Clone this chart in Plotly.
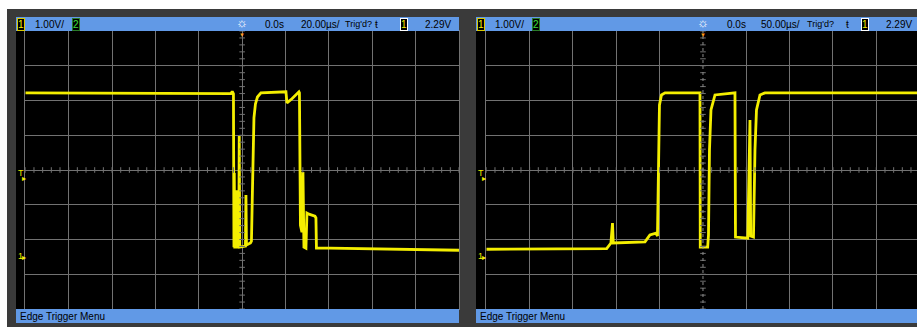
import plotly.graph_objects as go

W, H = 917, 327

# ---------------- data ----------------
# Scope settings
volts_per_div = 1.0
center_v = 2.5          # volts at the centre graticule line (ground marker ~2.5 div below)
trig_level = 2.29       # V
left_time_per_div = 20  # µs/div
right_time_per_div = 50 # µs/div

# Left capture (20 µs/div): time in µs, channel 1 voltage in V
left_t = [-100.0, -5.16, -4.56, -4.01, -3.78, -3.64, -3.41, -2.63, -2.40, -2.21,
          -1.57, -1.34, -1.11, 1.52, 1.75, 1.98, 3.83, 4.29, 4.66, 4.98,
          5.44, 6.13, 7.05, 8.67, 20.20, 20.66, 22.96, 26.19, 26.42, 26.88,
          27.57, 28.04, 28.50, 29.42, 29.88, 30.81, 33.57, 34.03, 34.26, 40.49,
          100.0]
left_v = [4.72, 4.70, 4.76, 4.69, 0.28, 2.41, 0.28, 0.28, 1.92, 0.28,
          0.28, 3.48, 0.28, 0.31, 1.78, 0.34, 0.40, 0.45, 1.64, 3.36,
          4.00, 4.40, 4.60, 4.72, 4.75, 4.43, 4.55, 4.75, 4.72, 0.91,
          0.71, 2.44, 0.28, 0.25, 1.26, 1.23, 1.17, 1.12, 0.25, 0.25,
          0.19]

# Right capture (50 µs/div)
right_t = [-250.0, -111.1, -106.2, -104.4, -103.5, -66.9, -61.2, -54.2, -52.5, -51.3,
           -50.2, -47.9, -43.8, -3.46, -3.12, 5.42, 6.35, 7.50, 9.23, 13.85,
           36.92, 37.50, 51.70, 54.23, 55.04, 58.27, 60.00, 61.73, 65.77, 71.50,
           250.0]
right_v = [0.22, 0.24, 0.40, 0.97, 0.40, 0.43, 0.63, 0.68, 0.60, 3.08,
           4.37, 4.66, 4.72, 4.72, 0.28, 0.28, 0.63, 3.08, 4.23, 4.66,
           4.72, 0.57, 0.54, 3.94, 0.60, 0.57, 3.08, 4.23, 4.66, 4.72,
           4.72]

left_header = ["1.00V/", "0.0s", "20.00µs/", "Trig'd?", "ŧ", "2.29V"]
right_header = ["1.00V/", "0.0s", "50.00µs/", "Trig'd?", "ŧ", "2.29V"]
menu_label = "Edge Trigger Menu"

# ---------------- layout helpers ----------------
def px(x):
    return x / W

def py(y):
    return 1 - y / H

BLUE = "#6199e6"
GRID = "#727272"
YELLOW = "#f4ee00"
BORDER = "#3a3a3a"
FONT = "Liberation Sans"

fig = go.Figure()

# traces
fig.add_trace(go.Scatter(x=left_t, y=left_v, mode="lines", xaxis="x", yaxis="y",
                         line=dict(color=YELLOW, width=2.8), hoverinfo="skip"))
fig.add_trace(go.Scatter(x=right_t, y=right_v, mode="lines", xaxis="x2", yaxis="y2",
                         line=dict(color=YELLOW, width=2.8), hoverinfo="skip"))

# centre-line minor ticks (1/5 division)
def minor_positions(lo, hi, step):
    n = int(round((hi - lo) / step))
    return [lo + i * step for i in range(n + 1)]

for xa, ya, tdiv in (("x", "y", left_time_per_div), ("x2", "y2", right_time_per_div)):
    xs = minor_positions(-5 * tdiv, 5 * tdiv, tdiv / 5)
    fig.add_trace(go.Scatter(x=xs, y=[center_v] * len(xs), mode="markers", xaxis=xa, yaxis=ya,
                             marker=dict(symbol="line-ns", size=4, line=dict(color=GRID, width=1)),
                             hoverinfo="skip"))
    ys = minor_positions(center_v - 4 * volts_per_div, center_v + 4 * volts_per_div, volts_per_div / 5)
    fig.add_trace(go.Scatter(x=[0] * len(ys), y=ys, mode="markers", xaxis=xa, yaxis=ya,
                             marker=dict(symbol="line-ew", size=4, line=dict(color=GRID, width=1)),
                             hoverinfo="skip"))

# right panel: dotted trigger-position line
fig.add_trace(go.Scatter(x=[0, 0], y=[center_v - 4, center_v + 4], mode="lines", xaxis="x2", yaxis="y2",
                         line=dict(color="#8a8a8a", width=1, dash="dot"), hoverinfo="skip"))

right_edge_t = (917 - 703) / (5 * 43.33) * 5 * right_time_per_div

ax_common = dict(showgrid=True, gridcolor=GRID, gridwidth=1, zeroline=False, showticklabels=False,
                 ticks="", showline=True, linecolor=GRID, mirror=True, fixedrange=True)

fig.update_layout(
    width=W, height=H, margin=dict(l=0, r=0, t=0, b=0),
    paper_bgcolor="white", plot_bgcolor="rgba(0,0,0,0)", showlegend=False,
    xaxis=dict(domain=[px(25.3), px(459)], range=[-5 * left_time_per_div, 5 * left_time_per_div],
               tick0=0, dtick=left_time_per_div, anchor="y", **ax_common),
    yaxis=dict(domain=[py(309), py(31)], range=[center_v - 4, center_v + 4], tick0=center_v,
               dtick=volts_per_div, anchor="x", **ax_common),
    xaxis2=dict(domain=[px(486.3), 1], range=[-5 * right_time_per_div, right_edge_t],
                tickmode="array",
                tickvals=[k * right_time_per_div for k in range(-5, 6) if k != 0],
                anchor="y2", **ax_common),
    yaxis2=dict(domain=[py(309), py(31)], range=[center_v - 4, center_v + 4], tick0=center_v,
                dtick=volts_per_div, anchor="x2", **ax_common),
)

shapes = []
def rect(x0, y0, x1, y1, color, layer="below"):
    shapes.append(dict(type="rect", xref="paper", yref="paper", x0=px(x0), x1=px(x1),
                       y0=py(y1), y1=py(y0), fillcolor=color, line=dict(width=0), layer=layer))

rect(7, 9, 917, 327, BORDER)
for x0, x1 in ((16, 459), (476, 917)):
    rect(x0, 31, x1, 309, "black")
    rect(x0, 17, x1, 31, BLUE, "above")
    rect(x0, 309, x1, 323, BLUE, "above")
fig.update_layout(shapes=shapes)

ann = []
def text(x, y, s, color="black", size=10, anchor="left", **kw):
    ann.append(dict(x=px(x), y=py(y), xref="paper", yref="paper", text=s, showarrow=False,
                    xanchor=anchor, yanchor="middle", font=dict(family=FONT, size=size, color=color), **kw))

def box(x, y, s, color, border):
    ann.append(dict(x=px(x), y=py(y), xref="paper", yref="paper", text=s, showarrow=False,
                    xanchor="left", yanchor="middle", bgcolor="black", bordercolor=border,
                    borderwidth=1, borderpad=0,
                    font=dict(family=FONT, size=10, color=color)))

def header(x0, labels, pos):
    box(x0 + 1, 24, "1", YELLOW, "#d8c800")
    text(x0 + 17, 24, labels[0])
    box(x0 + 56, 24, "2", "#3ee03e", "#2a7a2a")
    text(pos["sun"], 23, "☼", color="white", size=13, anchor="center")
    text(pos["t0"], 24, labels[1])
    text(pos["tdiv"], 24, labels[2])
    text(pos["trig"], 24, labels[3], size=9)
    text(pos["edge"], 24, labels[4])
    box(pos["box"], 24, "1", YELLOW, "white")
    text(pos["lvl"], 24, labels[5])
    text(x0 + 2, 316, menu_label)

header(16, left_header, dict(sun=242.3, t0=263, tdiv=299, trig=343, edge=373, box=400, lvl=423))
header(476, right_header, dict(sun=703, t0=725, tdiv=759, trig=805, edge=844, box=861, lvl=884))

# trigger-position markers (orange) and level / ground markers
for xa in ("x", "x2"):
    ann.append(dict(x=0, y=py(34.5), xref=xa, yref="paper", text="▼", showarrow=False,
                    xanchor="center", yanchor="middle", font=dict(size=6, color="#ff9a1a")))
for x0, ya in ((16, "y"), (476, "y2")):
    ann.append(dict(x=px(x0 + 4.5), y=trig_level + 0.12, xref="paper", yref=ya, text="T", showarrow=False,
                    xanchor="center", yanchor="middle", font=dict(family=FONT, size=9, color=YELLOW)))
    ann.append(dict(x=px(x0 + 7.5), y=trig_level, xref="paper", yref=ya, text="▸", showarrow=False,
                    xanchor="center", yanchor="middle", font=dict(size=8, color=YELLOW)))
    ann.append(dict(x=px(x0 + 4.5), y=0.03, xref="paper", yref=ya, text="1", showarrow=False,
                    xanchor="center", yanchor="middle", font=dict(family=FONT, size=9, color=YELLOW)))
    ann.append(dict(x=px(x0 + 7.5), y=0, xref="paper", yref=ya, text="▸", showarrow=False,
                    xanchor="center", yanchor="middle", font=dict(size=8, color=YELLOW)))

fig.update_layout(annotations=ann)
fig.write_html("out.html", config={"displayModeBar": False},
               post_script="document.body.style.margin='0px';document.body.style.overflow='hidden';")
